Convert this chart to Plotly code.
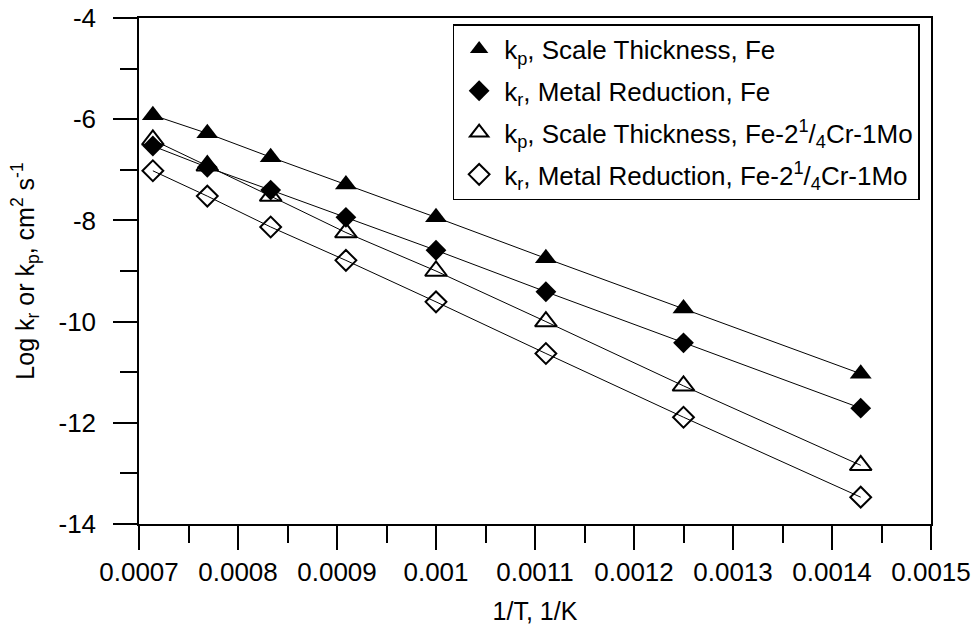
import plotly.graph_objects as go

# 1/T values (1/K)
inv_T = [0.000714, 0.000769, 0.000833, 0.000909, 0.001, 0.001111, 0.00125, 0.001429]

# Log k values
kp_Fe = [-5.92, -6.28, -6.75, -7.29, -7.94, -8.75, -9.74, -11.03]
kr_Fe = [-6.53, -6.95, -7.40, -7.94, -8.59, -9.41, -10.42, -11.71]
kp_FeCrMo = [-6.41, -6.92, -7.52, -8.24, -9.00, -10.00, -11.27, -12.84]
kr_FeCrMo = [-7.02, -7.52, -8.13, -8.79, -9.61, -10.63, -11.89, -13.47]

series_names = [
    "k<sub>p</sub>, Scale Thickness, Fe",
    "k<sub>r</sub>, Metal Reduction, Fe",
    "k<sub>p</sub>, Scale Thickness, Fe-2<sup>1</sup>/<sub>4</sub>Cr-1Mo",
    "k<sub>r</sub>, Metal Reduction, Fe-2<sup>1</sup>/<sub>4</sub>Cr-1Mo",
]
series_values = [kp_Fe, kr_Fe, kp_FeCrMo, kr_FeCrMo]
series_symbols = ["triangle-up", "diamond", "triangle-up-open", "diamond-open"]
series_sizes = [19, 16, 19, 16]

x_tickvals = [0.0007, 0.0008, 0.0009, 0.001, 0.0011, 0.0012, 0.0013, 0.0014, 0.0015]
x_ticktext = ["0.0007", "0.0008", "0.0009", "0.001", "0.0011", "0.0012", "0.0013", "0.0014", "0.0015"]
y_tickvals = [-4, -6, -8, -10, -12, -14]
y_ticktext = ["-4", "-6", "-8", "-10", "-12", "-14"]

FONT = "Liberation Sans, Arial, sans-serif"

fig = go.Figure()
# connecting lines (not in legend)
for vals in series_values:
    fig.add_trace(go.Scatter(
        x=inv_T, y=vals, mode="lines", showlegend=False, hoverinfo="skip",
        line=dict(color="black", width=1),
    ))
# markers (in legend)
for i, (name, vals, sym, sz) in enumerate(zip(series_names, series_values, series_symbols, series_sizes)):
    fig.add_trace(go.Scatter(
        x=inv_T, y=vals, name=name, mode="markers",
        legendgroup=f"g{i}",
        marker=dict(symbol=sym, size=sz, color="black",
                    line=dict(color="black", width=2 if "open" in sym else 0)),
    ))

axis_common = dict(
    showline=True, linecolor="black", linewidth=1.5, mirror=True,
    ticks="outside", ticklen=24, tickwidth=1.5, tickcolor="black",
    showgrid=False, zeroline=False, automargin=False,
    ticklabeloverflow="allow",
    tickfont=dict(family=FONT, size=26, color="black"),
)

fig.update_xaxes(
    **axis_common,
    range=[0.0007, 0.0015],
    tickmode="array", tickvals=x_tickvals, ticktext=x_ticktext,
    minor=dict(ticks="outside", ticklen=17, tickwidth=1.5, tickcolor="black", dtick=0.00005, tick0=0.0007),
    ticklabelstandoff=0,
    title=dict(text="1/T, 1/K", font=dict(family=FONT, size=25, color="black"), standoff=17),
)
fig.update_yaxes(
    **axis_common,
    range=[-14, -4],
    tickmode="array", tickvals=y_tickvals, ticktext=y_ticktext,
    minor=dict(ticks="outside", ticklen=17, tickwidth=1.5, tickcolor="black", dtick=1, tick0=-14),
    ticklabelstandoff=12,
    title=dict(text="Log k<sub>r</sub> or k<sub>p</sub>, cm<sup>2</sup> s<sup>-1</sup>",
               font=dict(family=FONT, size=25, color="black"), standoff=17),
)

fig.update_layout(
    width=976, height=627, autosize=False,
    margin=dict(l=139, r=45, t=18, b=103, autoexpand=False),
    paper_bgcolor="white", plot_bgcolor="white",
    font=dict(family=FONT, color="black"),
    showlegend=True,
    legend=dict(
        x=0.396, y=0.988, xanchor="left", yanchor="top",
        bordercolor="black", borderwidth=1.5, bgcolor="white",
        font=dict(family=FONT, size=26, color="black"),
        tracegroupgap=5, indentation=0, itemwidth=40,
    ),
)

# remove the default page margin so the 976x627 figure fills the window exactly
fig.write_html(
    "out.html",
    config={"displayModeBar": False},
    post_script="document.body.style.margin='0';document.body.style.overflow='hidden';",
)
